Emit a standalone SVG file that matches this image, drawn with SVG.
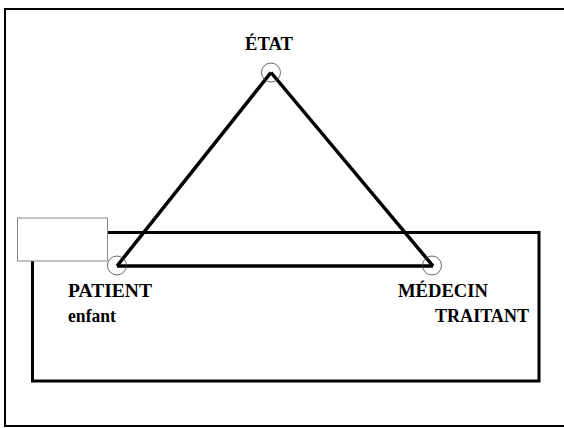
<svg xmlns="http://www.w3.org/2000/svg" width="564" height="428" viewBox="0 0 564 428">
  <style>
    .lbl { font-family: "Liberation Serif", "Times New Roman", serif; font-weight: bold; font-size: 19px; fill: #000; }
    .frame { fill: none; stroke: #000; }
    .joint { fill: none; stroke: #444; stroke-width: 0.8; }
    .edge { fill: none; stroke: #000; stroke-width: 3.5; stroke-linecap: butt; stroke-linejoin: miter; }
  </style>
  <rect width="564" height="428" fill="#fff"/>
  <!-- outer frame -->
  <rect class="frame" x="5" y="9" width="572" height="417" stroke-width="2"/>
  <!-- family box -->
  <rect class="frame" x="32.5" y="232.5" width="506.5" height="148.5" stroke-width="3"/>
  <!-- connectors: triangle edges -->
  <g id="connectors">
    <line class="edge" x1="271" y1="72.5" x2="117" y2="266"/>
    <line class="edge" x1="271" y1="72.5" x2="433" y2="266"/>
    <line class="edge" x1="117" y1="266" x2="433" y2="266"/>
  </g>
  <!-- tag box over the family box corner -->
  <rect x="17.5" y="218" width="90" height="43" fill="#fff" stroke="#888" stroke-width="1"/>
  <g id="etat">
    <circle class="joint" cx="271" cy="72.5" r="9.5"/>
    <text class="lbl" x="245" y="50" textLength="48" lengthAdjust="spacingAndGlyphs">ÉTAT</text>
  </g>
  <g id="patient">
    <circle class="joint" cx="117" cy="265.5" r="9.5"/>
    <text class="lbl" x="68" y="297" textLength="84" lengthAdjust="spacingAndGlyphs">PATIENT</text>
    <text class="lbl" x="68" y="321.5" textLength="48" lengthAdjust="spacingAndGlyphs">enfant</text>
  </g>
  <g id="medecin">
    <circle class="joint" cx="432" cy="265.5" r="9.5"/>
    <text class="lbl" x="398" y="297" textLength="90" lengthAdjust="spacingAndGlyphs">MÉDECIN</text>
    <text class="lbl" x="435" y="321.5" textLength="94" lengthAdjust="spacingAndGlyphs">TRAITANT</text>
  </g>
</svg>
